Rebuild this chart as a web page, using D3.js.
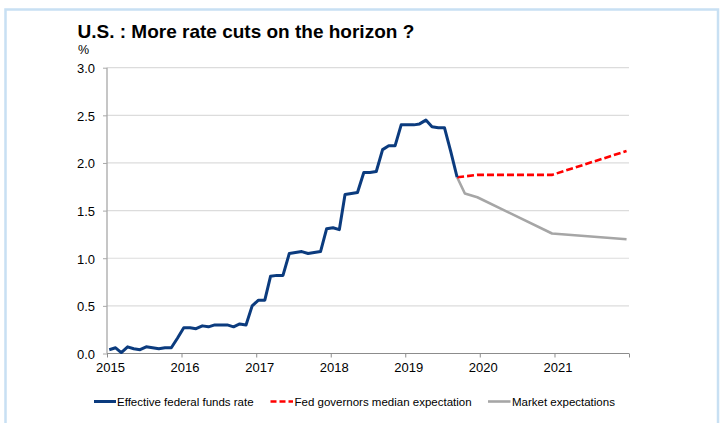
<!DOCTYPE html>
<html><head><meta charset="utf-8">
<script src="https://cdn.jsdelivr.net/npm/d3@7"></script>
<style>
body{margin:0;background:#fff}
svg{display:block}
text{font-family:"Liberation Sans",Arial,Helvetica,sans-serif;fill:#000}
</style>
</head><body>
<svg id="c" width="721" height="423"></svg>
<script>
// ---------- data ----------
const chartTitle = "U.S. : More rate cuts on the horizon ?";
const unitLabel = "%";
const seriesNames = ["Effective federal funds rate", "Fed governors median expectation", "Market expectations"];

// monthly effective federal funds rate, Jan 2015 .. Sep 2019
const effStartMonth = "2015-01-12";
const effRate = [0.04,0.06,0.01,0.07,0.05,0.04,0.07,0.06,0.05,0.06,0.06,0.16,
  0.27,0.27,0.26,0.29,0.28,0.30,0.30,0.30,0.28,0.31,0.30,0.50,
  0.56,0.56,0.81,0.82,0.82,1.05,1.06,1.07,1.05,1.06,1.07,1.31,
  1.32,1.30,1.67,1.68,1.69,1.90,1.90,1.91,2.14,2.18,2.18,2.40,
  2.40,2.40,2.41,2.45,2.38,2.37,2.37,2.12,1.85];

const fedDates  = ["2019-09-12","2019-12-20","2020-12-20","2021-12-20"];
const fedValues = [1.85,1.875,1.875,2.125];

const mktDates  = ["2019-09-12","2019-10-20","2019-12-20","2020-12-20","2021-12-20"];
const mktValues = [1.85,1.68,1.64,1.26,1.20];

const yTicks = [0,0.5,1.0,1.5,2.0,2.5,3.0];
const xTickYears = [2015,2016,2017,2018,2019,2020,2021,2022];
const xLabelYears = [2015,2016,2017,2018,2019,2020,2021];

// ---------- build ----------
const parse = d3.timeParse("%Y-%m-%d");
const effStart = parse(effStartMonth);
const effData = effRate.map((v,i)=>({d:d3.timeMonth.offset(effStart,i), v}));
const fedData = fedDates.map((s,i)=>({d:parse(s), v:fedValues[i]}));
const mktData = mktDates.map((s,i)=>({d:parse(s), v:mktValues[i]}));

const svg = d3.select("#c");
const L = 107, R = 629, T = 67.7, B = 353.5;

const x = d3.scaleTime().domain([new Date(2015,0,1), new Date(2022,0,1)]).range([L,R]);
const y = d3.scaleLinear().domain([0,3]).range([B,T]);

// frame
svg.append("rect").attr("x",5.5).attr("y",9.5).attr("width",712.5).attr("height",430)
  .attr("fill","#fff").attr("stroke","#c8e0f3").attr("stroke-width",2.5);

// title
svg.append("text").attr("x",77.5).attr("y",37.5)
  .style("font-size","19px").style("font-weight","bold").text(chartTitle);
svg.append("text").attr("x",78).attr("y",53.5).style("font-size","12.5px").text(unitLabel);

// gridlines
svg.append("g").selectAll("line").data(yTicks.filter(t=>t>0)).join("line")
  .attr("x1",L).attr("x2",R).attr("y1",d=>y(d)).attr("y2",d=>y(d))
  .attr("stroke","#dcdcdc").attr("stroke-width",1.2);

// y axis
const yAxis = d3.axisLeft(y).tickValues(yTicks).tickFormat(d3.format(".1f")).tickSize(4).tickPadding(8);
const gy = svg.append("g").attr("transform",`translate(${L},0)`).call(yAxis);
gy.select(".domain").attr("stroke","#a8a8a8").attr("stroke-width",1.3).attr("d",`M0,${B}V${T}`);
gy.selectAll(".tick line").attr("stroke","#a8a8a8");
gy.selectAll(".tick text").style("font-size","13px").attr("dy","0.37em").attr("fill","#000");

// x axis
const xAxis = d3.axisBottom(x).tickValues(xTickYears.map(yv=>new Date(yv,0,1)))
  .tickSize(4).tickPadding(5)
  .tickFormat(d=> xLabelYears.includes(d.getFullYear()) ? String(d.getFullYear()) : "");
const gx = svg.append("g").attr("transform",`translate(0,${B})`).call(xAxis);
gx.select(".domain").attr("stroke","#8c8c8c").attr("stroke-width",1.2).attr("d",`M${L},0H${R}`);
gx.selectAll(".tick line").attr("stroke","#8c8c8c");
gx.selectAll(".tick text").style("font-size","13px").attr("dx","3").attr("fill","#000");

// lines
const line = d3.line().x(d=>x(d.d)).y(d=>y(d.v));
svg.append("path").datum(mktData).attr("d",line).attr("fill","none")
  .attr("stroke","#a6a6a6").attr("stroke-width",2.6).attr("stroke-linejoin","round");
svg.append("path").datum(fedData).attr("d",line).attr("fill","none")
  .attr("stroke","#ff0000").attr("stroke-width",2.6).attr("stroke-dasharray","7,3");
svg.append("path").datum(effData).attr("d",line).attr("fill","none")
  .attr("stroke","#0b3b7e").attr("stroke-width",3).attr("stroke-linejoin","round");

// legend
const legY = 401.5;
const legItems = [
  {x0:94, x1:116, tx:117, color:"#0b3b7e", dash:null, w:3},
  {x0:270.5, x1:293, tx:294.5, color:"#ff0000", dash:"6,3", w:2.6},
  {x0:488, x1:510.5, tx:512, color:"#a6a6a6", dash:null, w:2.6}
];
const lg = svg.append("g");
legItems.forEach((it,i)=>{
  lg.append("line").attr("x1",it.x0).attr("x2",it.x1).attr("y1",legY).attr("y2",legY)
    .attr("stroke",it.color).attr("stroke-width",it.w).attr("stroke-dasharray",it.dash);
  lg.append("text").attr("x",it.tx).attr("y",legY).attr("dy","0.35em")
    .style("font-size","11.5px").text(seriesNames[i]);
});
</script>
</body></html>
